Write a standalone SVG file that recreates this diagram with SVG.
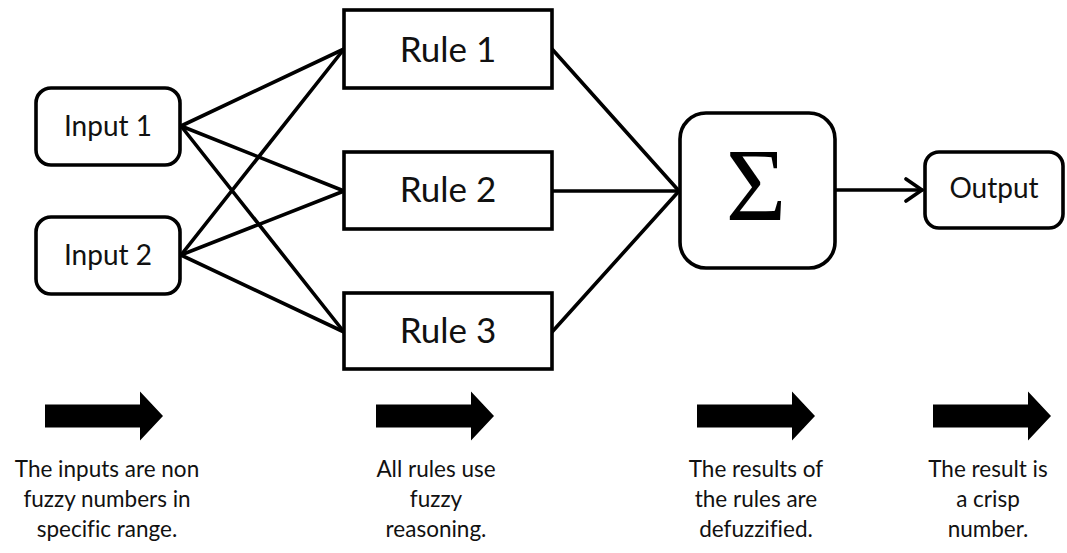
<svg xmlns="http://www.w3.org/2000/svg" width="1067" height="553" viewBox="0 0 1067 553">
<style>
.box{fill:#fff;stroke:#000;stroke-width:3.6}
.lbl{font-family:Lato,"Open Sans",sans-serif;fill:#111;text-anchor:middle;font-variant-ligatures:none}
.small{font-size:28px}
.rule{font-size:35px}
.note{font-family:Lato,"Open Sans",sans-serif;fill:#111;text-anchor:middle;font-size:22.5px;font-variant-ligatures:none}
.wire{stroke:#000;stroke-width:3.6;fill:none;stroke-linecap:round}
.big{fill:#000}
</style>
<defs>
<marker id="open" markerWidth="22" markerHeight="26" refX="18" refY="13" orient="auto" markerUnits="userSpaceOnUse">
<path d="M2,2 L18,13 L2,24" fill="none" stroke="#000" stroke-width="3.6" stroke-linejoin="miter" stroke-linecap="round"/>
</marker>
<path id="blk" d="M0,-11.5 L95,-11.5 L95,-24.5 L118,0 L95,24.5 L95,11.5 L0,11.5 Z"/>
</defs>
<rect width="1067" height="553" fill="#fff"/>
<g id="connectors">
<line class="wire" x1="181" y1="126" x2="344" y2="49"/>
<line class="wire" x1="181" y1="126" x2="344" y2="191"/>
<line class="wire" x1="181" y1="126" x2="344" y2="332"/>
<line class="wire" x1="181" y1="255" x2="344" y2="49"/>
<line class="wire" x1="181" y1="255" x2="344" y2="191"/>
<line class="wire" x1="181" y1="255" x2="344" y2="332"/>
<line class="wire" x1="552" y1="49" x2="679" y2="191"/>
<line class="wire" x1="552" y1="191" x2="679" y2="191"/>
<line class="wire" x1="552" y1="332" x2="679" y2="191"/>
<line class="wire" x1="835" y1="190" x2="922" y2="190" marker-end="url(#open)"/>
</g>
<g id="input1">
<rect class="box" x="36" y="88" width="144" height="77" rx="15"/>
<text class="lbl small" x="108" y="136">Input 1</text>
</g>
<g id="input2">
<rect class="box" x="36" y="217" width="144" height="77" rx="15"/>
<text class="lbl small" x="108" y="265">Input 2</text>
</g>
<g id="rule1">
<rect class="box" x="344" y="10" width="208" height="78"/>
<text class="lbl rule" x="448" y="62">Rule 1</text>
</g>
<g id="rule2">
<rect class="box" x="344" y="152" width="208" height="77"/>
<text class="lbl rule" x="448" y="202">Rule 2</text>
</g>
<g id="rule3">
<rect class="box" x="344" y="293" width="208" height="76"/>
<text class="lbl rule" x="448" y="343">Rule 3</text>
</g>
<g id="sum">
<rect class="box" x="680" y="113" width="155" height="155" rx="26"/>
<text x="756" y="220" font-family="'Liberation Serif',serif" font-size="104" text-anchor="middle" fill="#000">Σ</text>
</g>
<g id="output">
<rect class="box" x="925" y="152" width="138" height="76" rx="14"/>
<text class="lbl small" x="994" y="198">Output</text>
</g>
<g id="notes">
<use href="#blk" x="45" y="416" class="big"/>
<use href="#blk" x="376" y="416" class="big"/>
<use href="#blk" x="697" y="416" class="big"/>
<use href="#blk" x="933" y="416" class="big"/>
<text class="note" x="107" y="477">The inputs are non</text>
<text class="note" x="107" y="507">fuzzy numbers in</text>
<text class="note" x="107" y="537">specific range.</text>
<text class="note" x="436" y="477">All rules use</text>
<text class="note" x="436" y="507">fuzzy</text>
<text class="note" x="436" y="537">reasoning.</text>
<text class="note" x="756" y="477">The results of</text>
<text class="note" x="756" y="507">the rules are</text>
<text class="note" x="756" y="537">defuzzified.</text>
<text class="note" x="988" y="477">The result is</text>
<text class="note" x="988" y="507">a crisp</text>
<text class="note" x="988" y="537">number.</text>
</g>
</svg>
